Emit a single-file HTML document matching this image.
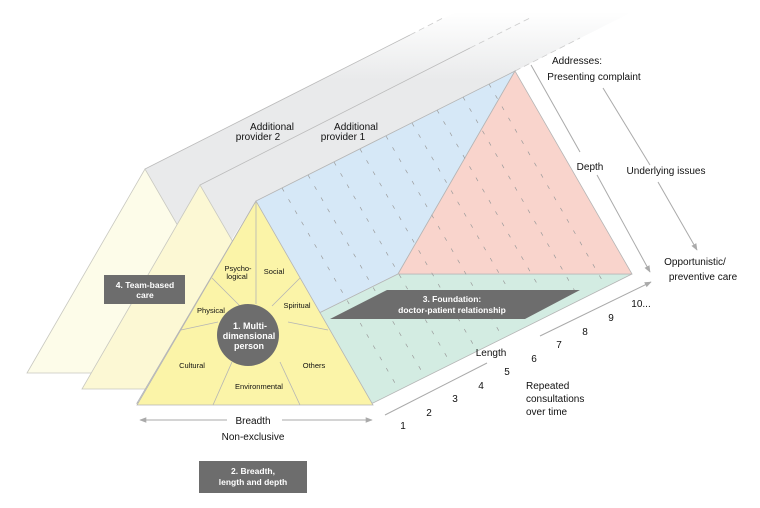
<!DOCTYPE html>
<html><head><meta charset="utf-8"><style>
body{margin:0;background:#fff;}
svg{display:block;font-family:"Liberation Sans",Arial,sans-serif;}
</style></head><body>
<svg width="760" height="508" viewBox="0 0 760 508" xmlns="http://www.w3.org/2000/svg">
<defs>
<linearGradient id="gg" gradientUnits="userSpaceOnUse" x1="0" y1="12" x2="0" y2="80">
<stop offset="0" stop-color="#ffffff"/><stop offset="1" stop-color="#e9eaeb"/>
</linearGradient>
<marker id="ar" viewBox="0 0 10 10" refX="9" refY="5" markerWidth="7" markerHeight="7" orient="auto-start-reverse"><path d="M0,1 L10,5 L0,9 z" fill="#aaa"/></marker>
<clipPath id="prism"><polygon points="256,201 515,71 632,274 373,403 137,403"/></clipPath>
</defs>

<!-- gray bands -->
<polygon points="145,169 480,0 640,0 640,8 515,71 256,201 200,290 145,290" fill="url(#gg)"/>
<line x1="145" y1="169" x2="410" y2="35" stroke="#bbb" stroke-width="0.8"/>
<line x1="410" y1="35" x2="445" y2="17" stroke="#ccc" stroke-width="0.8" stroke-dasharray="6,4"/>
<line x1="200" y1="185" x2="470" y2="48" stroke="#bbb" stroke-width="0.8"/>
<line x1="470" y1="48" x2="530" y2="18" stroke="#ccc" stroke-width="0.8" stroke-dasharray="6,4"/>
<line x1="515" y1="71" x2="580" y2="38" stroke="#ccc" stroke-width="0.8" stroke-dasharray="6,4"/>

<!-- provider triangles -->
<polygon points="145,169 27,373 263,373" fill="#fdfce9" stroke="#c8c8c0" stroke-width="0.8"/>
<polygon points="200,185 82,389 318,389" fill="#fcf8d4" stroke="#c8c8c0" stroke-width="0.8"/>

<!-- prism faces -->
<polygon points="256,201 515,71 398,274 137,403" fill="#d6e8f7" stroke="#b5b5b5" stroke-width="0.8"/>
<polygon points="137,403 373,403 632,274 398,274" fill="#d3ece2" stroke="#b5b5b5" stroke-width="0.8"/>
<polygon points="515,71 398,274 632,274" fill="#f9d4cc" stroke="#b5b5b5" stroke-width="0.8"/>

<!-- dashed cross-section lines -->
<g clip-path="url(#prism)" stroke="#9a9a9a" stroke-width="0.7" stroke-dasharray="4,9">
<line x1="282" y1="188" x2="399" y2="390"/>
<line x1="308" y1="175" x2="425" y2="377"/>
<line x1="334" y1="162" x2="451" y2="364"/>
<line x1="360" y1="149" x2="477" y2="351"/>
<line x1="386" y1="136" x2="503" y2="338"/>
<line x1="412" y1="123" x2="529" y2="325"/>
<line x1="437" y1="110" x2="554" y2="313"/>
<line x1="463" y1="97" x2="580" y2="300"/>
<line x1="489" y1="84" x2="606" y2="287"/>
</g>

<!-- foundation -->
<polygon points="330,319 387,290 580,290 525,319" fill="#6d6d6d"/>
<text x="452" y="302" fill="#fff" font-size="8.5" font-weight="bold" text-anchor="middle">3. Foundation:</text>
<text x="452" y="313" fill="#fff" font-size="8.5" font-weight="bold" text-anchor="middle">doctor-patient relationship</text>

<!-- front triangle -->
<polygon points="256,201 137,405 373,405" fill="#fbf4a8" stroke="#b5b5b5" stroke-width="0.8"/>
<g stroke="#b5b5b5" stroke-width="0.8">
<line x1="256" y1="201" x2="256" y2="304"/>
<line x1="212" y1="278" x2="240" y2="306"/>
<line x1="300" y1="278" x2="272" y2="306"/>
<line x1="181" y1="330" x2="218" y2="322"/>
<line x1="328" y1="330" x2="288" y2="322"/>
<line x1="232" y1="362" x2="213" y2="405"/>
<line x1="280" y1="362" x2="300" y2="405"/>
</g>
<circle cx="248" cy="335" r="31" fill="#6d6d6d"/>
<g font-size="7.5" fill="#111" text-anchor="middle">
<text x="238" y="271">Psycho-</text><text x="237" y="279">logical</text>
<text x="274" y="274">Social</text>
<text x="211" y="313">Physical</text>
<text x="297" y="308">Spiritual</text>
<text x="192" y="368">Cultural</text>
<text x="314" y="368">Others</text>
<text x="259" y="389">Environmental</text>
</g>
<g font-size="9" fill="#fff" font-weight="bold" text-anchor="middle">
<text x="250" y="329">1. Multi-</text>
<text x="249" y="339">dimensional</text>
<text x="249" y="349">person</text>
</g>

<!-- boxes -->
<rect x="104" y="275" width="81" height="29" fill="#6d6d6d"/>
<text x="145" y="288" fill="#fff" font-size="8.5" font-weight="bold" text-anchor="middle">4. Team-based</text>
<text x="145" y="298" fill="#fff" font-size="8.5" font-weight="bold" text-anchor="middle">care</text>
<rect x="199" y="461" width="108" height="32" fill="#6d6d6d"/>
<text x="253" y="474" fill="#fff" font-size="8.5" font-weight="bold" text-anchor="middle">2. Breadth,</text>
<text x="253" y="485" fill="#fff" font-size="8.5" font-weight="bold" text-anchor="middle">length and depth</text>

<!-- arrows -->
<g stroke="#aaa" stroke-width="1" fill="none">
<line x1="227" y1="420" x2="140" y2="420" marker-end="url(#ar)"/>
<line x1="282" y1="420" x2="372" y2="420" marker-end="url(#ar)"/>
<line x1="385" y1="415" x2="487" y2="363"/>
<line x1="540" y1="336" x2="651" y2="282" marker-end="url(#ar)"/>
<line x1="531" y1="65" x2="580" y2="152"/>
<line x1="597" y1="175" x2="650" y2="272" marker-end="url(#ar)"/>
<line x1="603" y1="88" x2="650" y2="165"/>
<line x1="658" y1="182" x2="697" y2="250" marker-end="url(#ar)"/>
</g>

<!-- labels -->
<g font-size="10" fill="#111">
<text x="272" y="130" text-anchor="middle">Additional</text>
<text x="258" y="140" text-anchor="middle">provider 2</text>
<text x="356" y="130" text-anchor="middle">Additional</text>
<text x="343" y="140" text-anchor="middle">provider 1</text>
<text x="577" y="64" text-anchor="middle">Addresses:</text>
<text x="594" y="80" text-anchor="middle">Presenting complaint</text>
<text x="590" y="170" text-anchor="middle">Depth</text>
<text x="666" y="174" text-anchor="middle">Underlying issues</text>
<text x="695" y="265" text-anchor="middle">Opportunistic/</text>
<text x="703" y="280" text-anchor="middle">preventive care</text>
<text x="253" y="424" text-anchor="middle">Breadth</text>
<text x="253" y="440" text-anchor="middle">Non-exclusive</text>
<text x="491" y="356" text-anchor="middle">Length</text>
<text x="526" y="389">Repeated</text>
<text x="526" y="402">consultations</text>
<text x="526" y="415">over time</text>
<text x="403" y="429" text-anchor="middle">1</text>
<text x="429" y="416" text-anchor="middle">2</text>
<text x="455" y="402" text-anchor="middle">3</text>
<text x="481" y="389" text-anchor="middle">4</text>
<text x="507" y="375" text-anchor="middle">5</text>
<text x="534" y="362" text-anchor="middle">6</text>
<text x="559" y="348" text-anchor="middle">7</text>
<text x="585" y="335" text-anchor="middle">8</text>
<text x="611" y="321" text-anchor="middle">9</text>
<text x="641" y="307" text-anchor="middle">10...</text>
</g>
</svg>
</body></html>
